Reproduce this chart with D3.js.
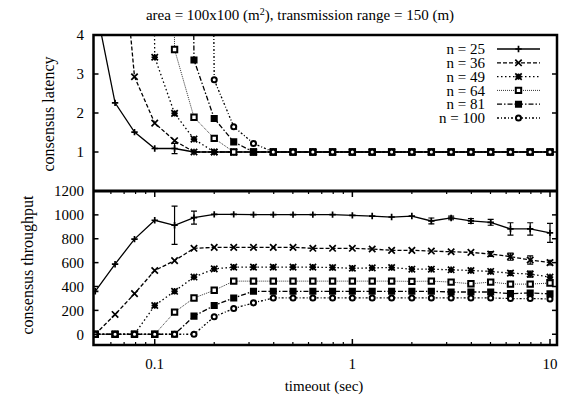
<!DOCTYPE html>
<html>
<head>
<meta charset="utf-8">
<script src="https://cdn.jsdelivr.net/npm/d3@7"></script>
<style>
body { margin: 0; background: #fff; }
</style>
</head>
<body>
<div id="chart"></div>
<script>
// timeout values (sec), one point every 0.1 decade
const timeouts = [0.05, 0.063, 0.079, 0.1, 0.126, 0.158, 0.2, 0.251, 0.316, 0.398, 0.501, 0.631,
    0.794, 1, 1.26, 1.58, 2, 2.51, 3.16, 3.98, 5.01, 6.31, 7.94, 10];

const nodeCounts = [25, 36, 49, 64, 81, 100];

// consensus latency (null = no consensus at that timeout)
const latency25 = [4.8, 2.26, 1.51, 1.09, 1.09, 1, 1, 1, 1, 1, 1, 1, 1, 1, 1, 1, 1, 1, 1, 1, 1, 1, 1, 1];
const latency36 = [null, 8.3, 2.93, 1.74, 1.29, 1, 1, 1, 1, 1, 1, 1, 1, 1, 1, 1, 1, 1, 1, 1, 1, 1, 1, 1];
const latency49 = [null, null, 60, 3.43, 1.99, 1.33, 1, 1, 1, 1, 1, 1, 1, 1, 1, 1, 1, 1, 1, 1, 1, 1, 1, 1];
const latency64 = [null, null, null, 60, 3.63, 1.89, 1.35, 1, 1, 1, 1, 1, 1, 1, 1, 1, 1, 1, 1, 1, 1, 1, 1, 1];
const latency81 = [null, null, null, null, 60, 3.36, 1.86, 1.26, 1, 1, 1, 1, 1, 1, 1, 1, 1, 1, 1, 1, 1, 1, 1, 1];
const latency100 = [null, null, null, null, null, 60, 2.85, 1.65, 1.22, 1, 1, 1, 1, 1, 1, 1, 1, 1, 1, 1, 1, 1, 1, 1];
const latencyErr25 = [0, 0, 0, 0, 0.13, 0, 0, 0, 0, 0, 0, 0, 0, 0, 0, 0, 0, 0, 0, 0, 0, 0, 0, 0];

// consensus throughput
const throughput25 = [360, 587, 797, 955, 913, 977, 1004, 1004, 1002, 1002, 1002, 1002, 1002, 996, 990, 982, 990, 949, 974, 949, 938, 882, 882, 849];
const throughput36 = [0, 166, 340, 534, 617, 720, 728, 728, 728, 728, 728, 720, 720, 720, 714, 703, 703, 697, 691, 686, 672, 650, 622, 600];
const throughput49 = [0, 0, 0, 241, 360, 479, 548, 562, 562, 562, 562, 562, 559, 553, 556, 559, 545, 545, 540, 534, 526, 512, 504, 479];
const throughput64 = [0, 0, 0, 0, 185, 304, 368, 445, 445, 445, 445, 445, 445, 445, 445, 445, 443, 445, 437, 423, 437, 420, 420, 429];
const throughput81 = [0, 0, 0, 0, 0, 152, 241, 304, 360, 360, 360, 360, 360, 360, 360, 360, 360, 360, 354, 354, 354, 340, 346, 338];
const throughput100 = [0, 0, 0, 0, 0, 0, 147, 216, 263, 304, 304, 304, 304, 304, 304, 304, 304, 304, 304, 304, 304, 299, 299, 296];
const throughputErr25 = [0, 0, 0, 0, 160, 55, 0, 0, 0, 0, 0, 0, 0, 0, 0, 0, 0, 25, 15, 20, 25, 52, 52, 80];
const throughputErr36 = [0, 0, 0, 0, 0, 0, 0, 0, 0, 0, 0, 0, 0, 0, 0, 0, 0, 0, 0, 0, 20, 30, 35, 20];
const throughputErr49 = [0, 0, 0, 0, 0, 0, 0, 0, 0, 0, 0, 0, 0, 0, 0, 0, 0, 0, 0, 0, 0, 20, 25, 0];

const latencyTicks = [1, 2, 3, 4];
const throughputTicks = [0, 200, 400, 600, 800, 1000, 1200];
const xMajorTicks = [0.1, 1, 10];
const xMinorTicks = [0.06, 0.07, 0.08, 0.09, 0.2, 0.3, 0.4, 0.5, 0.6, 0.7, 0.8, 0.9, 2, 3, 4, 5, 6, 7, 8, 9];

const latencySeries = [latency25, latency36, latency49, latency64, latency81, latency100];
const latencyErrors = [latencyErr25, null, null, null, null, null];
const throughputSeries = [throughput25, throughput36, throughput49, throughput64, throughput81, throughput100];
const throughputErrors = [throughputErr25, throughputErr36, throughputErr49, null, null, null];

// gnuplot-ish styles per series
const styles = [
    { dash: null, marker: "plus", color: "#000", width: 1.3 },
    { dash: "4,2", marker: "cross", color: "#000", width: 1.3 },
    { dash: "1.5,2.5", marker: "star", color: "#000", width: 1.3 },
    { dash: "1,1", marker: "box", color: "#333", width: 1 },
    { dash: "5,2,1.5,2", marker: "fbox", color: "#000", width: 1.3 },
    { dash: "2,2,1,2", marker: "circle", color: "#000", width: 1.3 }
];

const FONT = "'Liberation Serif', serif";

const width = 569, height = 399;
const plotLeft = 93.5, plotRight = 557;
const latTop = 35, split = 191, thrBottom = 345;

const x = d3.scaleLog().domain([0.049, 10.85]).range([plotLeft, plotRight]);
const yLat = d3.scaleLinear().domain([0, 4]).range([split, latTop]);
const yThr = d3.scaleLinear().domain([-90, 1200]).range([thrBottom, split]);

const svg = d3.select("#chart").append("svg")
    .attr("width", width)
    .attr("height", height);

function addText(sel) {
    return sel.append("text")
        .attr("font-family", FONT)
        .attr("font-size", 15)
        .attr("fill", "#000");
}

function markerPath(type) {
    const s = type === "box" || type === "fbox" ? 2.7 : 3.2;
    if (type === "plus") return `M${-s},0H${s}M0,${-s}V${s}`;
    if (type === "cross") return `M${-s},${-s}L${s},${s}M${-s},${s}L${s},${-s}`;
    if (type === "star") return `M${-s},0H${s}M0,${-s}V${s}M${-s},${-s}L${s},${s}M${-s},${s}L${s},${-s}`;
    if (type === "box" || type === "fbox") return `M${-s},${-s}H${s}V${s}H${-s}Z`;
    if (type === "circle") return d3.symbol().type(d3.symbolCircle).size(20)();
    return "";
}

function drawMarker(g, type, cx, cy) {
    const filled = type === "fbox";
    const hollow = type === "box" || type === "circle";
    g.append("path")
        .attr("d", markerPath(type))
        .attr("transform", `translate(${cx},${cy})`)
        .attr("fill", filled ? "#000" : hollow ? "#fff" : "none")
        .attr("stroke", "#000")
        .attr("stroke-width", hollow ? 2 : 1.7);
}

function drawPanel(y, top, bottom, series, errors, clipId) {
    svg.append("clipPath").attr("id", clipId)
        .append("rect")
        .attr("x", plotLeft).attr("y", top)
        .attr("width", plotRight - plotLeft).attr("height", bottom - top);

    const g = svg.append("g").attr("clip-path", `url(#${clipId})`);

    series.forEach((vals, si) => {
        const st = styles[si];
        const pts = timeouts.map((t, i) => ({ t: t, v: vals[i], e: errors[si] ? errors[si][i] : 0 }))
            .filter(d => d.v !== null);

        const line = d3.line().x(d => x(d.t)).y(d => y(d.v));

        g.append("path")
            .datum(pts)
            .attr("d", line)
            .attr("fill", "none")
            .attr("stroke", st.color)
            .attr("stroke-width", st.width)
            .attr("stroke-dasharray", st.dash);

        // error bars
        pts.filter(d => d.e > 0).forEach(d => {
            const px = x(d.t);
            g.append("path")
                .attr("d", `M${px},${y(d.v - d.e)}V${y(d.v + d.e)}M${px - 3},${y(d.v - d.e)}H${px + 3}M${px - 3},${y(d.v + d.e)}H${px + 3}`)
                .attr("stroke", "#000")
                .attr("stroke-width", 1.2)
                .attr("fill", "none");
        });

        pts.filter(d => y(d.v) >= top - 4).forEach(d => drawMarker(g, st.marker, x(d.t), y(d.v)));
    });
}

drawPanel(yLat, latTop, split, latencySeries, latencyErrors, "clipLat");
drawPanel(yThr, split, thrBottom, throughputSeries, throughputErrors, "clipThr");

// y ticks, both sides, pointing inward
const axes = svg.append("g").attr("stroke", "#000");

latencyTicks.forEach(v => {
    axes.append("line").attr("x1", plotLeft).attr("x2", plotLeft + 5).attr("y1", yLat(v)).attr("y2", yLat(v)).attr("stroke-width", 1.5);
    axes.append("line").attr("x1", plotRight).attr("x2", plotRight - 5).attr("y1", yLat(v)).attr("y2", yLat(v)).attr("stroke-width", 1.5);
    addText(svg).attr("x", 84).attr("y", yLat(v)).attr("dy", "0.35em").attr("text-anchor", "end").text(v);
});

throughputTicks.forEach(v => {
    axes.append("line").attr("x1", plotLeft).attr("x2", plotLeft + 5).attr("y1", yThr(v)).attr("y2", yThr(v)).attr("stroke-width", 1.5);
    axes.append("line").attr("x1", plotRight).attr("x2", plotRight - 5).attr("y1", yThr(v)).attr("y2", yThr(v)).attr("stroke-width", 1.5);
    addText(svg).attr("x", 84).attr("y", yThr(v)).attr("dy", "0.35em").attr("text-anchor", "end").text(v);
});

// x ticks on the lower panel, bottom and top edge
xMajorTicks.forEach(v => {
    axes.append("line").attr("x1", x(v)).attr("x2", x(v)).attr("y1", thrBottom).attr("y2", thrBottom - 6).attr("stroke-width", 1.5);
    axes.append("line").attr("x1", x(v)).attr("x2", x(v)).attr("y1", split).attr("y2", split + 6).attr("stroke-width", 1.5);
    addText(svg).attr("x", x(v)).attr("y", 369).attr("text-anchor", "middle").text(v);
});

xMinorTicks.forEach(v => {
    axes.append("line").attr("x1", x(v)).attr("x2", x(v)).attr("y1", thrBottom).attr("y2", thrBottom - 3).attr("stroke-width", 1.2);
    axes.append("line").attr("x1", x(v)).attr("x2", x(v)).attr("y1", split).attr("y2", split + 3).attr("stroke-width", 1.2);
});

// frames
svg.append("rect")
    .attr("x", plotLeft).attr("y", latTop)
    .attr("width", plotRight - plotLeft).attr("height", thrBottom - latTop)
    .attr("fill", "none").attr("stroke", "#000").attr("stroke-width", 2.5);

svg.append("line")
    .attr("x1", plotLeft).attr("x2", plotRight)
    .attr("y1", split).attr("y2", split)
    .attr("stroke", "#000").attr("stroke-width", 3);

// labels
const title = addText(svg).attr("x", 300).attr("y", 20).attr("text-anchor", "middle");
title.append("tspan").text("area = 100x100 (m");
title.append("tspan").attr("baseline-shift", "super").attr("font-size", "10px").text("2");
title.append("tspan").text("), transmission range = 150 (m)");

addText(svg)
    .attr("transform", "translate(48,114) rotate(-90)")
    .attr("dy", "0.35em")
    .attr("font-size", 16)
    .attr("text-anchor", "middle")
    .text("consensus latency");

addText(svg)
    .attr("transform", "translate(27,265) rotate(-90)")
    .attr("dy", "0.35em")
    .attr("font-size", 16)
    .attr("text-anchor", "middle")
    .text("consensus throughput");

addText(svg)
    .attr("x", 324).attr("y", 391)
    .attr("text-anchor", "middle")
    .text("timeout (sec)");

// legend
const legend = svg.append("g");
nodeCounts.forEach((n, i) => {
    const ly = 49 + i * 13.8;
    const st = styles[i];
    addText(legend).attr("x", 485).attr("y", ly).attr("dy", "0.35em").attr("text-anchor", "end").text(`n = ${n}`);
    legend.append("line")
        .attr("x1", 497).attr("x2", 540).attr("y1", ly).attr("y2", ly)
        .attr("stroke", st.color).attr("stroke-width", st.width)
        .attr("stroke-dasharray", st.dash);
    drawMarker(legend, st.marker, 518.5, ly);
});
</script>
</body>
</html>
